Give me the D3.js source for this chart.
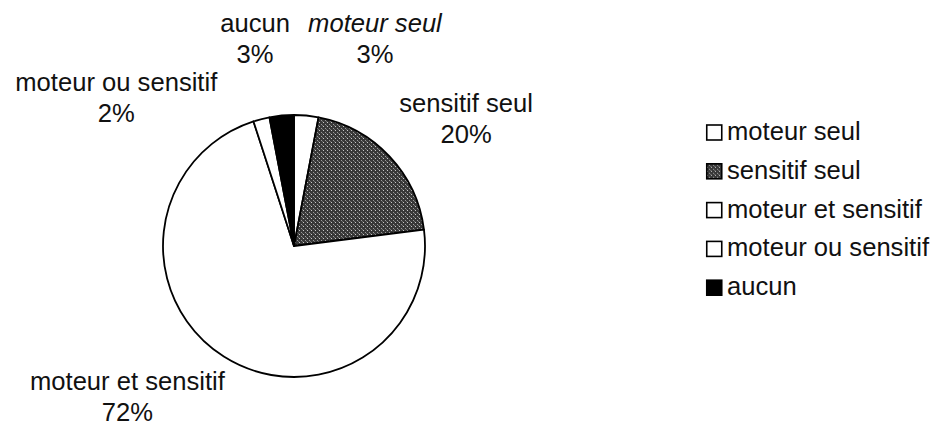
<!DOCTYPE html>
<html>
<head>
<meta charset="utf-8">
<script src="https://cdn.jsdelivr.net/npm/d3@7"></script>
<style>
  body { margin: 0; background: #fff; }
  svg text { font-family: "Liberation Sans", Arial, sans-serif; font-size: 25.6px; fill: #111; }
</style>
</head>
<body>
<div id="graphique"></div>
<script>
// données
const categories = ['moteur seul', 'sensitif seul', 'moteur et sensitif', 'moteur ou sensitif', 'aucun'];
const valeurs = [3, 20, 72, 2, 3];
const etiquettes = ['3%', '20%', '72%', '2%', '3%'];

const largeur = 936, hauteur = 426;
const cx = 294, cy = 246, rayon = 131;

// décalage des étiquettes par rapport au centroïde (mise en page type Excel)
const decalages = [[61, -3], [17.5, 11], [-53, -35], [-125, 50], [-19, -3]];

const svg = d3.select('#graphique')
  .append('svg')
  .attr('width', largeur)
  .attr('height', hauteur);

// motif pointillé pour "sensitif seul"
const defs = svg.append('defs');
const motif = defs.append('pattern')
  .attr('id', 'pointille')
  .attr('width', 4).attr('height', 4)
  .attr('patternUnits', 'userSpaceOnUse');
motif.append('rect').attr('width', 4).attr('height', 4).attr('fill', '#383838');
motif.append('rect').attr('x', 1).attr('y', 0).attr('width', 1).attr('height', 1).attr('fill', '#c8c8c8');
motif.append('rect').attr('x', 3).attr('y', 2).attr('width', 1).attr('height', 1).attr('fill', '#9a9a9a');
motif.append('rect').attr('x', 0).attr('y', 3).attr('width', 1).attr('height', 1).attr('fill', '#707070');

const couleur = d3.scaleOrdinal()
  .domain(categories)
  .range(['#fff', 'url(#pointille)', '#fff', '#fff', '#000']);

const donnees = categories.map((c, i) => ({ nom: c, valeur: valeurs[i], etiquette: etiquettes[i], i }));

const pie = d3.pie().sort(null).value(d => d.valeur);
const arc = d3.arc().innerRadius(0).outerRadius(rayon);
const arcEtiquette = d3.arc().innerRadius(212).outerRadius(212);

const g = svg.append('g').attr('transform', `translate(${cx},${cy})`);

const parts = pie(donnees);

g.selectAll('path')
  .data(parts)
  .enter()
  .append('path')
  .attr('d', arc)
  .attr('fill', d => couleur(d.data.nom))
  .attr('stroke', '#000')
  .attr('stroke-width', 1.8)
  .attr('stroke-linejoin', 'round');

// étiquettes
const etq = g.selectAll('.etiquette')
  .data(parts)
  .enter()
  .append('text')
  .attr('class', 'etiquette')
  .attr('text-anchor', 'middle')
  .style('font-style', d => d.data.i === 0 ? 'italic' : 'normal')
  .attr('transform', d => {
    const [x, y] = arcEtiquette.centroid(d);
    const [dx, dy] = decalages[d.data.i];
    return `translate(${x + dx},${y + dy})`;
  });
etq.append('tspan').attr('x', 0).attr('y', 0).text(d => d.data.nom);
etq.append('tspan').attr('x', 0).attr('y', 31).style('font-style', 'normal').text(d => d.data.etiquette);

// légende
const legende = svg.append('g').attr('transform', 'translate(706,140)');
const ligne = d3.scaleBand().domain(categories).range([0, 194]);

const items = legende.selectAll('.item')
  .data(donnees)
  .enter()
  .append('g')
  .attr('class', 'item')
  .attr('transform', d => `translate(0,${ligne(d.nom)})`);

items.append('rect')
  .attr('x', 0.75).attr('y', -15)
  .attr('width', 15).attr('height', 15)
  .attr('fill', d => couleur(d.nom))
  .attr('stroke', '#000')
  .attr('stroke-width', 1.6);

items.append('text')
  .attr('x', 21)
  .attr('y', 0)
  .text(d => d.nom);
</script>
</body>
</html>
